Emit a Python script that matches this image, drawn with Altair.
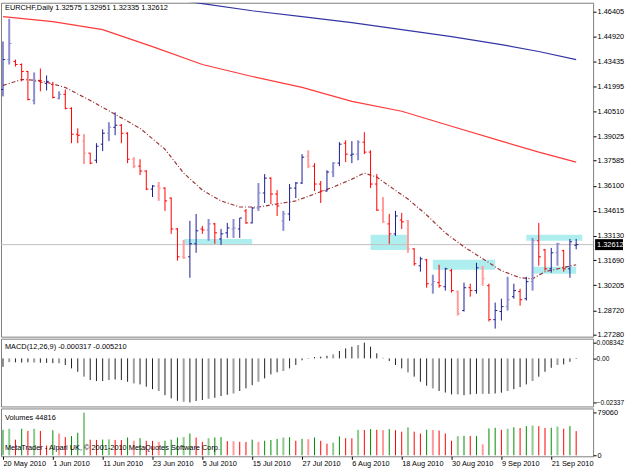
import json
import altair as alt
import pandas as pd

# ---- instrument -------------------------------------------------------------
symbol = "EURCHF"
period = "Daily"

# ---- daily OHLC, 20 May 2010 .. 27 Sep 2010 ---------------------------------
open_ = [1.4180, 1.4357, 1.4346, 1.4328, 1.4287, 1.4115, 1.4228, 1.4216, 1.4210, 1.4127,
         1.4151, 1.4068, 1.3915, 1.3874, 1.3803, 1.3761, 1.3856, 1.3921, 1.3956, 1.3968,
         1.3921, 1.3767, 1.3726, 1.3697, 1.3590, 1.3608, 1.3596, 1.3537, 1.3354, 1.3189,
         1.3189, 1.3266, 1.3354, 1.3348, 1.3384, 1.3295, 1.3331, 1.3354, 1.3354, 1.3461,
         1.3390, 1.3478, 1.3567, 1.3655, 1.3561, 1.3402, 1.3443, 1.3596, 1.3626, 1.3785,
         1.3726, 1.3620, 1.3579, 1.3691, 1.3744, 1.3862, 1.3791, 1.3797, 1.3868, 1.3809,
         1.3620, 1.3466, 1.3384, 1.3325, 1.3407, 1.3402, 1.3236, 1.3136, 1.3171, 1.3024,
         1.3036, 1.3012, 1.3107, 1.2983, 1.2871, 1.3006, 1.2989, 1.3124, 1.3018, 1.2817,
         1.2865, 1.2894, 1.2953, 1.2983, 1.2941, 1.3042, 1.3284, 1.3230, 1.3118, 1.3213,
         1.3225, 1.3118, 1.32575]
high_ = [1.4464, 1.4599, 1.4357, 1.4334, 1.4290, 1.4281, 1.4304, 1.4263, 1.4225, 1.4169,
         1.4180, 1.4074, 1.3950, 1.3915, 1.3805, 1.3862, 1.3944, 1.3986, 1.4045, 1.3975,
         1.3927, 1.3779, 1.3767, 1.3702, 1.3614, 1.3632, 1.3600, 1.3540, 1.3360, 1.3289,
         1.3402, 1.3443, 1.3372, 1.3413, 1.3390, 1.3354, 1.3390, 1.3413, 1.3419, 1.3472,
         1.3484, 1.3626, 1.3679, 1.3660, 1.3584, 1.3461, 1.3620, 1.3632, 1.3797, 1.3820,
         1.3744, 1.3638, 1.3702, 1.3750, 1.3868, 1.3879, 1.3874, 1.3879, 1.3927, 1.3820,
         1.3679, 1.3543, 1.3443, 1.3461, 1.3449, 1.3407, 1.3240, 1.3189, 1.3177, 1.3083,
         1.3142, 1.3124, 1.3118, 1.2989, 1.3036, 1.3030, 1.3154, 1.3136, 1.3030, 1.2918,
         1.2941, 1.3071, 1.3030, 1.3000, 1.3071, 1.3301, 1.3390, 1.3236, 1.3242, 1.3272,
         1.3230, 1.3295, 1.32951]
low_ = [1.4139, 1.4328, 1.4316, 1.4228, 1.4115, 1.4092, 1.4169, 1.4174, 1.4127, 1.4121,
        1.4062, 1.3862, 1.3862, 1.3738, 1.3738, 1.3744, 1.3815, 1.3874, 1.3909, 1.3862,
        1.3744, 1.3714, 1.3673, 1.3584, 1.3543, 1.3520, 1.3461, 1.3325, 1.3166, 1.3177,
        1.3065, 1.3213, 1.3325, 1.3284, 1.3266, 1.3260, 1.3301, 1.3301, 1.3301, 1.3384,
        1.3387, 1.3461, 1.3508, 1.3502, 1.3431, 1.3343, 1.3402, 1.3537, 1.3620, 1.3714,
        1.3579, 1.3508, 1.3575, 1.3661, 1.3726, 1.3750, 1.3744, 1.3761, 1.3797, 1.3596,
        1.3461, 1.3390, 1.3266, 1.3313, 1.3354, 1.3213, 1.3136, 1.3101, 1.3006, 1.2971,
        1.3006, 1.2989, 1.2977, 1.2841, 1.2865, 1.2953, 1.2971, 1.3018, 1.2806, 1.2764,
        1.2812, 1.2871, 1.2941, 1.2900, 1.2930, 1.2989, 1.3136, 1.3107, 1.3095, 1.3136,
        1.3101, 1.3065, 1.32335]
close_ = [1.4357, 1.4452, 1.4328, 1.4287, 1.4121, 1.4228, 1.4222, 1.4228, 1.4133, 1.4151,
          1.4068, 1.3915, 1.3909, 1.3803, 1.3744, 1.3844, 1.3921, 1.3956, 1.3968, 1.3921,
          1.3767, 1.3726, 1.3697, 1.3590, 1.3608, 1.3596, 1.3520, 1.3354, 1.3189, 1.3183,
          1.3266, 1.3343, 1.3348, 1.3384, 1.3331, 1.3325, 1.3360, 1.3360, 1.3419, 1.3390,
          1.3478, 1.3567, 1.3655, 1.3561, 1.3490, 1.3443, 1.3596, 1.3626, 1.3779, 1.3726,
          1.3620, 1.3579, 1.3691, 1.3744, 1.3856, 1.3797, 1.3797, 1.3868, 1.3809, 1.3620,
          1.3466, 1.3396, 1.3325, 1.3431, 1.3396, 1.3236, 1.3148, 1.3177, 1.3030, 1.3042,
          1.3018, 1.3118, 1.2989, 1.2853, 1.3006, 1.2989, 1.3124, 1.3059, 1.2817, 1.2871,
          1.2894, 1.2935, 1.2989, 1.2935, 1.3042, 1.3284, 1.3189, 1.3118, 1.3213, 1.3266,
          1.3118, 1.3278, 1.32612]

# ---- moving averages (bar index, value) -------------------------------------
long_ma_idx = [28, 32, 40, 48, 56, 64, 72, 80, 86, 92]
long_ma = [1.4711, 1.4688, 1.4646, 1.4611, 1.4576, 1.4534, 1.4493, 1.4446, 1.4405, 1.4357]
mid_ma_idx = [0, 8, 16, 24, 32, 40, 48, 56, 64, 72, 80, 86, 92]
mid_ma = [1.4611, 1.4582, 1.4534, 1.4434, 1.4328, 1.4257, 1.4192, 1.4110, 1.4051, 1.3962,
          1.3874, 1.3809, 1.3750]
short_ma_idx = [0, 3, 6, 10, 14, 18, 22, 26, 29, 32, 35, 38, 41, 44, 47, 50, 53, 56, 58, 60,
                62, 65, 68, 71, 74, 77, 80, 83, 85, 87, 89, 92]
short_ma = [1.4204, 1.4239, 1.4233, 1.4192, 1.4115, 1.4033, 1.3950, 1.3826, 1.3685, 1.3584,
            1.3520, 1.3484, 1.3484, 1.3502, 1.3520, 1.3561, 1.3602, 1.3649, 1.3685, 1.3661,
            1.3608, 1.3531, 1.3437, 1.3331, 1.3248, 1.3178, 1.3107, 1.3065, 1.3059, 1.3101,
            1.3118, 1.3142]

# ---- support / resistance zones ---------------------------------------------
zone_start = [29.1, 59.0, 69.0, 84.0, 85.1]
zone_end = [40.0, 65.0, 79.0, 93.0, 92.0]
zone_high = [1.3295, 1.3319, 1.3171, 1.3319, 1.3130]
zone_low = [1.3260, 1.3230, 1.3112, 1.3284, 1.3089]

# ---- MACD(12,26,9) main line and last signal value --------------------------
macd_main = [-0.0045, -0.0020, -0.0021, -0.0022, -0.0021, -0.0022, -0.0023, -0.0024, -0.0025, -0.0026,
             -0.0035, -0.0053, -0.0071, -0.0097, -0.0115, -0.0120, -0.0120, -0.0115, -0.0112, -0.0115,
             -0.0124, -0.0133, -0.0138, -0.0150, -0.0163, -0.0173, -0.0195, -0.0212, -0.0225, -0.0230,
             -0.02337, -0.0226, -0.0221, -0.0214, -0.0209, -0.0200, -0.0193, -0.0186, -0.0173, -0.0159,
             -0.0142, -0.0124, -0.0106, -0.0085, -0.0074, -0.0067, -0.0053, -0.0035, -0.0010, -0.0003,
             0.0007, 0.0009, 0.0014, 0.0021, 0.0039, 0.0053, 0.0062, 0.0071, 0.008342, 0.0062,
             0.0027, 0.0003, -0.0014, -0.0035, -0.0053, -0.0074, -0.0097, -0.0124, -0.0145, -0.0159,
             -0.0173, -0.0181, -0.0191, -0.0191, -0.0195, -0.0191, -0.0188, -0.0188, -0.0188, -0.0186,
             -0.0182, -0.0173, -0.0163, -0.0152, -0.0138, -0.0120, -0.0097, -0.0071, -0.0050, -0.0035,
             -0.0032, -0.0018, -0.000317]
macd_signal_last = -0.005210

# ---- tick volumes -----------------------------------------------------------
volumes = [47300, 49300, 29000, 49300, 45300, 49300, 45300, 18200, 46600, 40500,
           33800, 35800, 41900, 79060, 29000, 28500, 29200, 29600, 28600, 28200,
           33100, 27000, 31800, 27000, 26800, 25000, 27000, 29000, 33100, 33800,
           40500, 33100, 25000, 31800, 33100, 33800, 26400, 26000, 25000, 24600,
           29000, 25000, 27000, 28400, 30400, 33100, 33800, 27000, 30400, 30000,
           33100, 27000, 21600, 23600, 35100, 31800, 31500, 47300, 47000, 48700,
           47500, 46600, 48700, 46600, 43900, 52000, 43900, 40500, 47300, 47000,
           45900, 40500, 27000, 35500, 36200, 35800, 36000, 20300, 49800, 51000,
           47300, 49300, 52000, 50700, 54100, 55400, 54100, 50700, 51200, 53400,
           49300, 54100, 44816]

# ---- axes -------------------------------------------------------------------
price_ticks = [1.46405, 1.44920, 1.43435, 1.41995, 1.40510, 1.39025, 1.37585, 1.36100,
               1.34615, 1.33130, 1.31690, 1.30205, 1.28720, 1.27280]
date_ticks = [0, 8, 16, 24, 32, 40, 48, 56, 64, 72, 80, 88]
date_labels = ["20 May 2010", "1 Jun 2010", "11 Jun 2010", "23 Jun 2010", "5 Jul 2010",
               "15 Jul 2010", "27 Jul 2010", "6 Aug 2010", "18 Aug 2010", "30 Aug 2010",
               "9 Sep 2010", "21 Sep 2010"]

FONT = "Liberation Sans"
FS = 7.4
W = 594

n = len(close_)
bars = pd.DataFrame({"i": range(n), "open": open_, "high": high_, "low": low_, "close": close_})
bars["dir"] = ["up" if c >= o else "down" for o, c in zip(open_, close_)]

vol = pd.DataFrame({"i": range(n), "v": volumes})
vol["dir"] = ["up" if k == 0 or volumes[k] > volumes[k - 1] else "down" for k in range(n)]

macd = pd.DataFrame({"i": range(n), "m": macd_main})

x_scale = alt.Scale(domain=[-0.32, 94.72], nice=False, zero=False)
y_price = alt.Scale(domain=[1.27162, 1.46936], nice=False, zero=False)
y_macd = alt.Scale(domain=[-0.025484, 0.010456], nice=False, zero=False)
y_vol = alt.Scale(domain=[-1851, 87020], nice=False, zero=False)

shade_calc = "datum.i % 4 == 1 ? 'light' : 'dark'"
width_scale = alt.Scale(domain=["dark", "light"], range=[1, 2])
bar_colors = alt.Scale(domain=["up-dark", "up-light", "down-dark", "down-light"],
                       range=["#1C1C90", "#8C8CD0", "#FF0000", "#FF9C9C"])
vol_colors = alt.Scale(domain=["up-dark", "up-light", "down-dark", "down-light"],
                       range=["#008C00", "#8CCB8C", "#FF0000", "#FF9A9A"])

right_axis = dict(orient="right", tickSize=3, domain=False, grid=False,
                  title=None, labelOverlap=False, labelFlush=False)
# every layer of the price panel carries the same axis so the merged axis keeps all labels
price_axis = alt.Axis(values=price_ticks, format=".5f", labelPadding=1, **right_axis)

# ---- main price panel -------------------------------------------------------
zones = pd.DataFrame({"x0": zone_start, "x1": zone_end, "hi": zone_high, "lo": zone_low})
zone_layer = alt.Chart(zones).mark_rect(color="#AFEEEE", clip=True).encode(
    x=alt.X("x0:Q", scale=x_scale, axis=None), x2="x1:Q",
    y=alt.Y("hi:Q", scale=y_price, axis=price_axis), y2="lo:Q")

last_close = close_[-1]
price_line = alt.Chart(pd.DataFrame({"p": [last_close]})).mark_rule(
    color="#C0C0C0", strokeWidth=1).encode(y=alt.Y("p:Q", scale=y_price, axis=price_axis))

def ma_line(idx, vals, color, dash=None):
    df = pd.DataFrame({"i": idx, "v": vals})
    kw = dict(color=color, strokeWidth=1.2, clip=True)
    if dash:
        kw["strokeDash"] = dash
    return alt.Chart(df).mark_line(**kw).encode(
        x=alt.X("i:Q", scale=x_scale, axis=None), y=alt.Y("v:Q", scale=y_price, axis=price_axis))

long_layer = ma_line(long_ma_idx, long_ma, "#3535A5")
mid_layer = ma_line(mid_ma_idx, mid_ma, "#FF3A3A")
short_layer = ma_line(short_ma_idx, short_ma, "#9E3535", [4, 2, 1, 2])

bar_base = alt.Chart(bars).transform_calculate(
    shade=shade_calc,
    style="datum.dir + '-' + datum.shade",
    il="datum.i - 0.3",
    ir="datum.i + 0.35",
)
bar_color = alt.Color("style:N", scale=bar_colors, legend=None)
hl_layer = bar_base.mark_rule().encode(
    x=alt.X("i:Q", scale=x_scale, axis=None),
    y=alt.Y("low:Q", scale=y_price, axis=price_axis),
    y2="high:Q",
    color=bar_color,
    strokeWidth=alt.StrokeWidth("shade:N", scale=width_scale, legend=None),
)
open_layer = bar_base.mark_rule(strokeWidth=1).encode(
    x=alt.X("il:Q", scale=x_scale, axis=None), x2="i:Q",
    y=alt.Y("open:Q", scale=y_price, axis=price_axis), color=bar_color)
close_layer = bar_base.mark_rule(strokeWidth=1).encode(
    x=alt.X("i:Q", scale=x_scale, axis=None), x2="ir:Q",
    y=alt.Y("close:Q", scale=y_price, axis=price_axis), color=bar_color)

header = f"{symbol},{period}  {open_[-1]:.5f} {high_[-1]:.5f} {low_[-1]:.5f} {close_[-1]:.5f}"
header_layer = alt.Chart(pd.DataFrame({"t": [header]})).mark_text(
    align="left", baseline="middle", font=FONT, fontSize=FS, color="black").encode(
    text="t:N", x=alt.value(4), y=alt.value(5))

last_df = pd.DataFrame({"p": [last_close], "t": [f"{last_close:.5f}"]})
last_bg = alt.Chart(last_df).mark_tick(
    orient="horizontal", size=28, thickness=11, color="black", opacity=1).encode(
    x=alt.value(610), y=alt.Y("p:Q", scale=y_price, axis=price_axis))
last_txt = alt.Chart(last_df).mark_text(
    align="left", baseline="middle", font=FONT, fontSize=FS, color="white").encode(
    x=alt.value(598), y=alt.Y("p:Q", scale=y_price, axis=price_axis), text="t:N")

main = alt.layer(
    zone_layer, price_line, long_layer, mid_layer, short_layer,
    hl_layer, open_layer, close_layer, header_layer, last_bg, last_txt,
).properties(width=W, height=335)

# ---- MACD panel -------------------------------------------------------------
macd_ticks = [max(macd_main), 0, min(macd_main)]
macd_bars = alt.Chart(macd).transform_calculate(shade=shade_calc).mark_rule().encode(
    x=alt.X("i:Q", scale=x_scale, axis=None),
    y=alt.Y("m:Q", scale=y_macd, axis=alt.Axis(
        values=macd_ticks, labelPadding=0, labelFontSize=6.6,
        labelExpr="datum.value == 0 ? '0.00' : datum.value > 0 ? format(datum.value, '.6f') : format(datum.value, '.5f')",
        **right_axis)),
    y2=alt.datum(0),
    color=alt.Color("shade:N", scale=alt.Scale(domain=["dark", "light"], range=["#202020", "#A0A0A0"]), legend=None),
    strokeWidth=alt.StrokeWidth("shade:N", scale=width_scale, legend=None),
)
macd_title = f"MACD(12,26,9) {macd_main[-1]:.6f} {macd_signal_last:.6f}"
macd_text = alt.Chart(pd.DataFrame({"t": [macd_title]})).mark_text(
    align="left", baseline="middle", font=FONT, fontSize=FS, color="black").encode(
    text="t:N", x=alt.value(4), y=alt.value(8))
macd_panel = alt.layer(macd_bars, macd_text).properties(width=W, height=68)

# ---- volume panel -----------------------------------------------------------
date_expr = json.dumps(date_labels) + "[round(datum.value / 8)]"
vol_bars = alt.Chart(vol).transform_calculate(
    shade=shade_calc, style="datum.dir + '-' + datum.shade").mark_rule().encode(
    x=alt.X("i:Q", scale=x_scale, axis=alt.Axis(
        values=date_ticks, labelExpr=date_expr, labelAlign="left", labelBaseline="top",
        labelPadding=0, tickSize=3, domain=False, grid=False, title=None,
        labelOverlap=False, labelFlush=False)),
    y=alt.Y("v:Q", scale=y_vol, axis=alt.Axis(values=[0, max(volumes)], format="d",
                                               labelPadding=1, **right_axis)),
    y2=alt.datum(0),
    color=alt.Color("style:N", scale=vol_colors, legend=None),
    strokeWidth=alt.StrokeWidth("shade:N", scale=width_scale, legend=None),
)
vol_text = alt.Chart(pd.DataFrame({"t": [f"Volumes {volumes[-1]}"]})).mark_text(
    align="left", baseline="middle", font=FONT, fontSize=FS, color="black").encode(
    text="t:N", x=alt.value(4), y=alt.value(10))
mark_text = alt.Chart(pd.DataFrame({"t": ["MetaTrader - Alpari UK, \u00a9 2001-2010 MetaQuotes Software Corp."]})).mark_text(
    align="left", baseline="middle", font=FONT, fontSize=FS, color="black").encode(
    text="t:N", x=alt.value(4), y=alt.value(40))
vol_panel = alt.layer(vol_bars, vol_text, mark_text).properties(width=W, height=48)

chart = alt.vconcat(main, macd_panel, vol_panel, spacing=2, bounds="flush").properties(
    padding={"left": 0, "top": 1, "right": 0, "bottom": 0},
    background="white",
).configure_view(stroke="#808080", strokeWidth=1).configure_axis(
    labelFont=FONT, labelFontSize=FS, labelColor="black", tickColor="black",
    labelOverlap=False,
).resolve_scale(color="independent", strokeWidth="independent")

chart.save("out.html", embed_options={"renderer": "svg", "actions": False})
